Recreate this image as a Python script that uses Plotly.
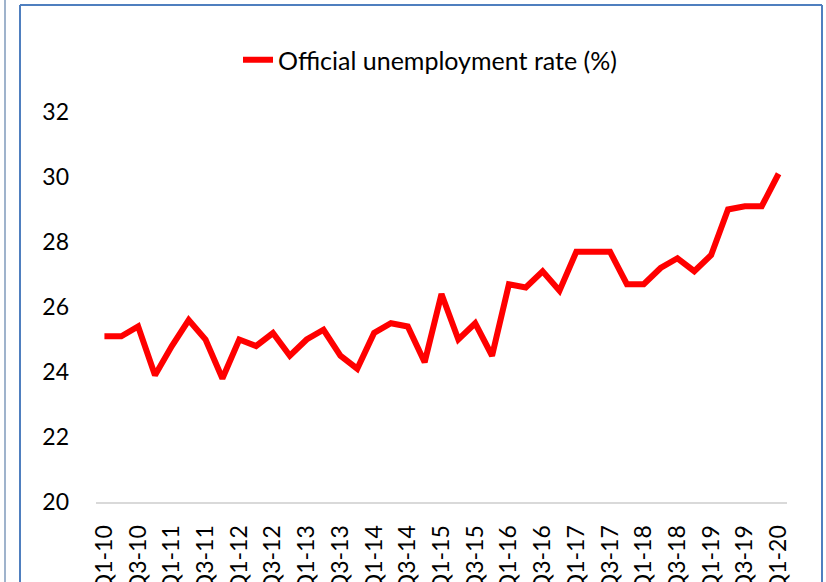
import plotly.graph_objects as go

quarters = [f"Q{q}-{y:02d}" for y in range(10, 21) for q in (1, 2, 3, 4)][:41]
unemployment = [25.1, 25.1, 25.4, 23.9, 24.8, 25.6, 25.0, 23.8, 25.0, 24.8,
                25.2, 24.5, 25.0, 25.3, 24.5, 24.1, 25.2, 25.5, 25.4, 24.3,
                26.4, 25.0, 25.5, 24.5, 26.7, 26.6, 27.1, 26.5, 27.7, 27.7,
                27.7, 26.7, 26.7, 27.2, 27.5, 27.1, 27.6, 29.0, 29.1, 29.1,
                30.1]
tick_labels = quarters[::2]
y_ticks = [20, 22, 24, 26, 28, 30, 32]

FONT = "Lato"
W, H = 826, 582
L, R, T, B = 96, 39, 112, 80
pw, ph = W - L - R, H - T - B

def px(x):
    return (x - L) / pw

def py(y):
    return (H - B - y) / ph

fig = go.Figure()
fig.add_trace(go.Scatter(
    x=quarters, y=unemployment, mode="lines",
    name="Official unemployment rate (%)",
    line=dict(color="#ff0000", width=6),
))

frame = "#4f7fbf"
shapes = [
    dict(type="line", xref="paper", yref="paper", x0=px(5), x1=px(5), y0=py(-10), y1=py(600),
         line=dict(color="#9fb3cc", width=2)),
    dict(type="line", xref="paper", yref="paper", x0=px(20), x1=px(20), y0=py(5), y1=py(600),
         line=dict(color=frame, width=2)),
    dict(type="line", xref="paper", yref="paper", x0=px(20), x1=px(822), y0=py(5), y1=py(5),
         line=dict(color=frame, width=2)),
    dict(type="line", xref="paper", yref="paper", x0=px(822), x1=px(822), y0=py(5), y1=py(600),
         line=dict(color=frame, width=2)),
]

fig.update_layout(
    width=W, height=H,
    margin=dict(l=L, r=R, t=T, b=B, autoexpand=False),
    paper_bgcolor="white", plot_bgcolor="white",
    font=dict(family=FONT, size=24, color="#000000"),
    showlegend=True,
    legend=dict(orientation="h", x=px(238), xanchor="left", y=py(60), yanchor="middle",
                font=dict(family=FONT, size=25), bgcolor="rgba(0,0,0,0)"),
    shapes=shapes,
    xaxis=dict(
        type="category", tickmode="array", tickvals=tick_labels, ticktext=tick_labels,
        range=[-0.5, len(quarters) - 0.5],
        tickangle=-90, showgrid=False, showline=True, linecolor="#d9d9d9", linewidth=2,
        ticks="", ticklabelstandoff=12, zeroline=False, automargin=False,
        tickfont=dict(family=FONT, size=23),
    ),
    yaxis=dict(
        range=[20, 32], tickvals=y_ticks, showgrid=False, showline=False, zeroline=False,
        ticks="", ticklabelstandoff=26, automargin=False, tickfont=dict(family=FONT, size=23),
    ),
)

fig.write_html(
    "out.html",
    config={"displayModeBar": False},
    post_script="document.body.style.margin='0';document.body.style.overflow='hidden';",
)
